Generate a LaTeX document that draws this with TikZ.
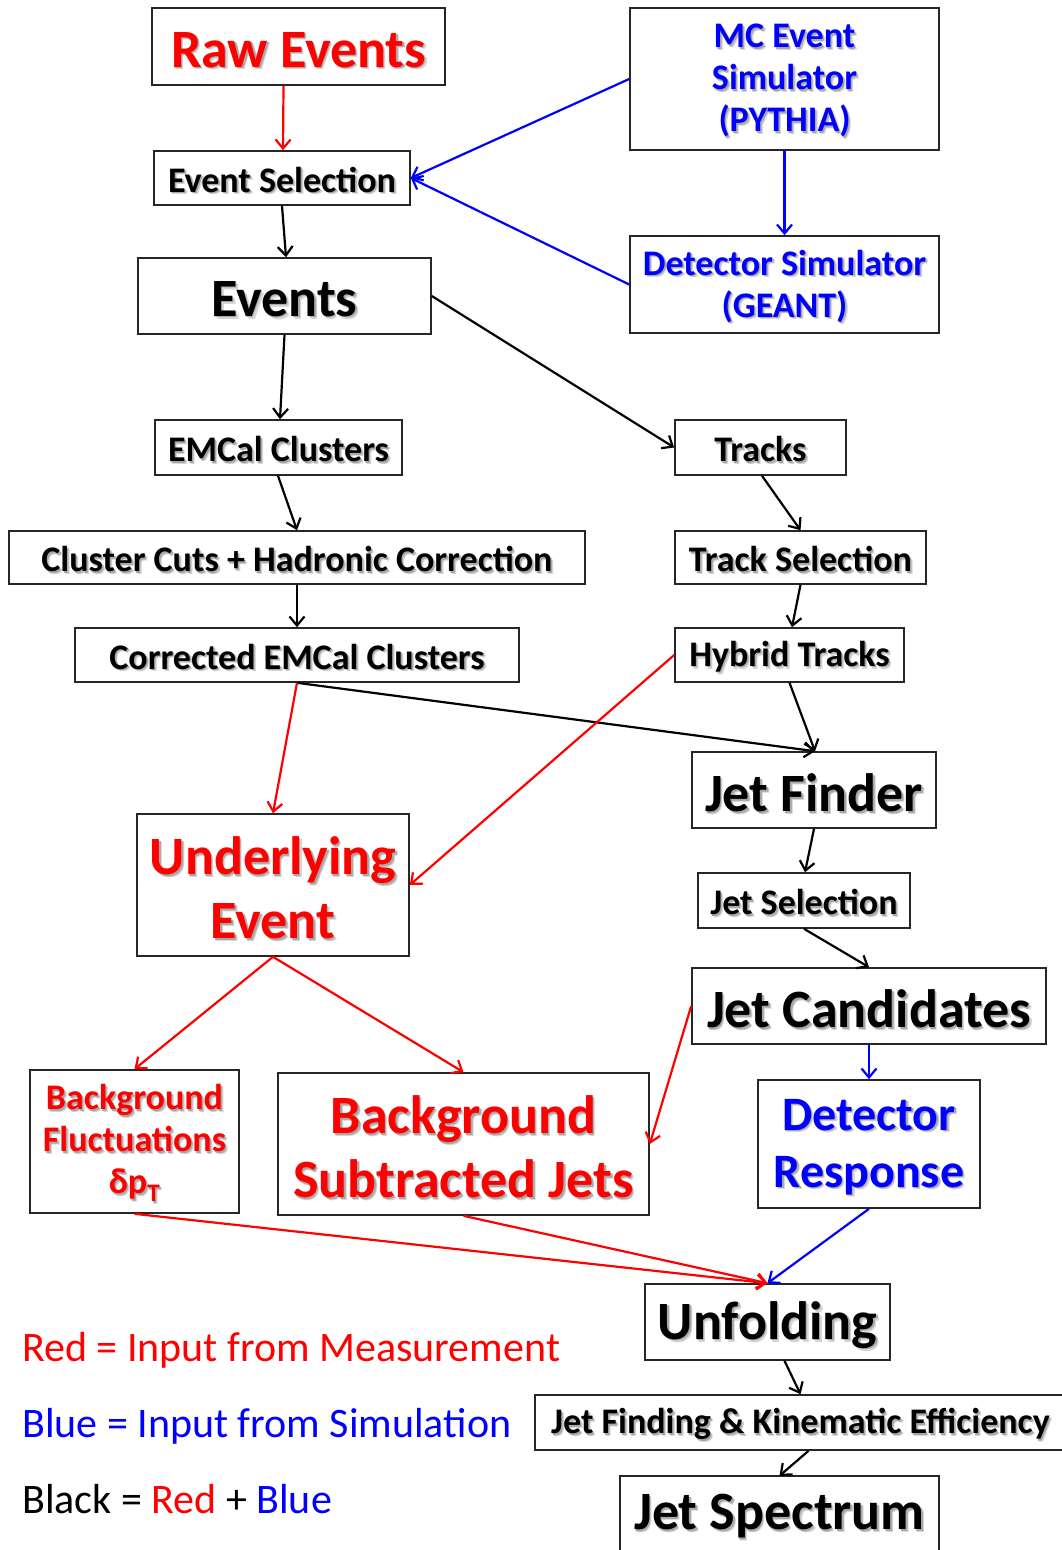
\documentclass[tikz,border=0pt]{standalone}
\usepackage{fontspec}
\setmainfont{Carlito}
\usetikzlibrary{arrows.meta}
\def\txsh{3pt}
\newcommand\shd[1]{\leavevmode\rlap{\kern2.6pt\raisebox{-2.6pt}{\color{black!16}#1}}\rlap{\kern1.4pt\raisebox{-1.4pt}{\color{black!34}#1}}#1}
\newcommand\tx[1]{\raisebox{-\txsh}[\height][\depth]{\shd{#1}}}
\begin{document}
\begin{tikzpicture}[x=1pt,y=-1pt,
  box/.style={draw=black!85,line width=1.6pt,inner sep=0pt,align=center},
  big/.style={font=\bfseries\fontsize{54}{64}\selectfont\def\txsh{4.5pt}},
  mid/.style={font=\bfseries\fontsize{48}{57}\selectfont\def\txsh{4pt}},
  sml/.style={font=\bfseries\fontsize{36}{42}\selectfont\def\txsh{3pt}},
  leg/.style={font=\fontsize{42}{50}\selectfont,inner sep=0pt,anchor=base west},
  ar/.style={-{Straight Barb[length=9pt,width=15pt]},line width=2.2pt},
  ra/.style={ar,red},
  ba/.style={ar,blue},
  ka/.style={ar,black}]
\useasboundingbox (0,0) rectangle (1062,1550);
% nodes
\node[box,big,text=red,minimum width=293pt,minimum height=77pt] (raw) at (298.5,46.5) {\tx{Raw Events}};
\node[box,sml,text=blue,minimum width=309pt,minimum height=142pt] (mc) at (784.5,79) {\tx{MC Event}\\\tx{Simulator}\\\tx{(PYTHIA)}};
\node[box,sml,minimum width=256pt,minimum height=54pt] (evsel) at (282,178) {\tx{Event Selection}};
\node[box,sml,text=blue,minimum width=309pt,minimum height=97pt] (detsim) at (784.5,284.5) {\tx{Detector Simulator}\\\tx{(GEANT)}};
\node[box,big,minimum width=293pt,minimum height=76pt] (events) at (284.5,296) {\tx{Events}};
\node[box,sml,minimum width=247pt,minimum height=55pt] (emcal) at (278.5,447.5) {\tx{EMCal Clusters}};
\node[box,sml,minimum width=171pt,minimum height=55pt] (tracks) at (760.5,447.5) {\tx{Tracks}};
\node[box,sml,minimum width=576pt,minimum height=53pt] (cuts) at (297,557.5) {\tx{Cluster Cuts + Hadronic Correction}};
\node[box,sml,minimum width=251pt,minimum height=53pt] (trsel) at (800.5,557.5) {\tx{Track Selection}};
\node[box,sml,minimum width=444pt,minimum height=54pt] (corr) at (297,655) {\tx{Corrected EMCal Clusters}};
\node[box,sml,minimum width=229pt,minimum height=54pt] (hybrid) at (789.5,655) {\tx{Hybrid Tracks}};
\node[box,big,minimum width=244pt,minimum height=76pt] (jf) at (814,790) {\tx{Jet Finder}};
\node[box,big,text=red,minimum width=272pt,minimum height=142pt] (ue) at (273,885) {\tx{Underlying}\\\tx{Event}};
\node[box,sml,minimum width=212pt,minimum height=55pt] (jetsel) at (804,900.5) {\tx{Jet Selection}};
\node[box,big,minimum width=354pt,minimum height=76pt] (jc) at (869,1006) {\tx{Jet Candidates}};
\node[box,sml,text=red,minimum width=209pt,minimum height=143pt] (bgfl) at (134.5,1141.5) {\tx{Background}\\\tx{Fluctuations}\\\tx{δp\textsubscript{T}}};
\node[box,big,text=red,minimum width=371pt,minimum height=142pt] (bgsub) at (463.5,1144) {\tx{Background}\\\tx{Subtracted Jets}};
\node[box,mid,text=blue,minimum width=222pt,minimum height=128pt] (dr) at (869,1144) {\tx{Detector}\\\tx{Response}};
\node[box,big,minimum width=245pt,minimum height=76pt] (unf) at (767.5,1322) {\tx{Unfolding}};
\node[box,sml,minimum width=531pt,minimum height=55pt] (jfe) at (800.5,1422.5) {\tx{Jet Finding \& Kinematic Efficiency}};
\node[big,inner sep=0pt,minimum width=319pt,minimum height=74pt] (jspec) at (779.5,1513) {\tx{Jet Spectrum}};
\draw[draw=black!85,line width=1.6pt] (jspec.south west) |- (jspec.north east) -- (jspec.south east);
% legend
\node[leg,text=red] (l1) at (22,1361) {Red = Input from Measurement};
\node[leg,text=blue] (l2) at (22,1437) {Blue = Input from Simulation};
\node[leg] (l3) at (22,1513) {Black = {\color{red}Red} + {\color{blue}Blue}};
% connectors
\draw[ra] ([xshift=-15pt]raw.south) -- ([xshift=1pt]evsel.north);
\draw[ba] (mc.west) -- (evsel.east);
\draw[ba] (detsim.west) -- (evsel.east);
\draw[ba] (mc.south) -- (detsim.north);
\draw[ka] (evsel.south) -- ([xshift=1.5pt]events.north);
\draw[ka] (events.south) -- ([xshift=1.5pt]emcal.north);
\draw[ka] (events.east) -- (tracks.west);
\draw[ka] ([xshift=-0.5pt]emcal.south) -- (cuts.north);
\draw[ka] ([xshift=1.5pt]tracks.south) -- (trsel.north);
\draw[ka] (cuts.south) -- (corr.north);
\draw[ka] (trsel.south) -- ([xshift=2.5pt]hybrid.north);
\draw[ka] (corr.south) -- ([xshift=1pt]jf.north);
\draw[ka] (hybrid.south) -- ([xshift=1pt]jf.north);
\draw[ra] (corr.south) -- (ue.north);
\draw[ra] (hybrid.west) -- (ue.east);
\draw[ka] (jf.south) -- ([xshift=1pt]jetsel.north);
\draw[ka] (jetsel.south) -- (jc.north);
\draw[ra] (ue.south) -- (bgfl.north);
\draw[ra] (ue.south) -- (bgsub.north);
\draw[ra] (jc.west) -- (bgsub.east);
\draw[ba] (jc.south) -- (dr.north);
\draw[ra] (bgfl.south) -- (unf.north);
\draw[ra] (bgsub.south) -- (unf.north);
\draw[ba] (dr.south) -- (unf.north);
\draw[ka] ([xshift=17pt]unf.south) -- (jfe.north);
\draw[ka] ([xshift=8pt]jfe.south) -- (jspec.north);
\end{tikzpicture}
\end{document}
